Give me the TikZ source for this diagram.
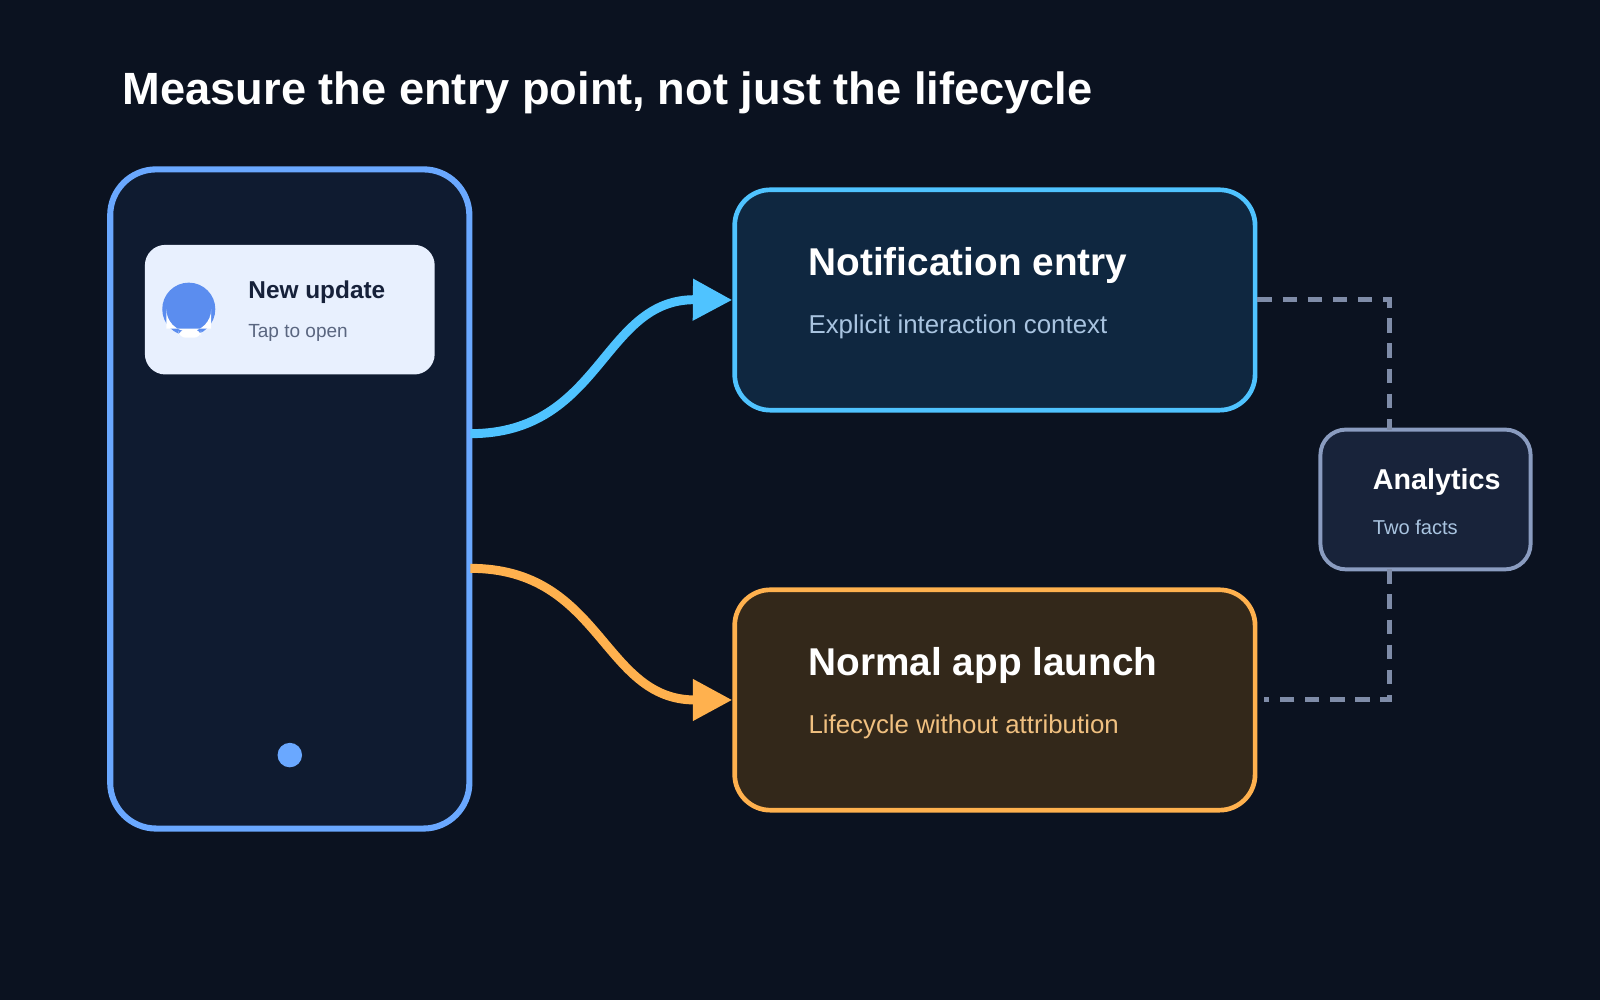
\documentclass[tikz,border=0pt]{standalone}
\usepackage{fontspec}
\setmainfont{Liberation Sans}
\usetikzlibrary{arrows.meta,positioning}
\definecolor{bgdark}{HTML}{0B1220}
\definecolor{phonefill}{HTML}{0F1B30}
\definecolor{phoneline}{HTML}{6AA8FF}
\definecolor{cardfill}{HTML}{E8F0FE}
\definecolor{belblue}{HTML}{5B8DEF}
\definecolor{notifline}{HTML}{4FC3FF}
\definecolor{notiffill}{HTML}{0F2740}
\definecolor{notiftext}{HTML}{A9C4E0}
\definecolor{launchline}{HTML}{FFB14E}
\definecolor{launchfill}{HTML}{33281A}
\definecolor{launchtext}{HTML}{F0C080}
\definecolor{anline}{HTML}{8A9CC0}
\definecolor{anfill}{HTML}{18233A}
\definecolor{dashcol}{HTML}{7F8CA8}
\definecolor{cardtitle}{HTML}{16213A}
\definecolor{cardsub}{HTML}{5A6680}

\tikzset{
    box/.style = {draw, rounded corners = 35*0.01cm, line width = 1.3pt, inner sep = 0},
    heading/.style = {anchor = base west, text = white, font = \bfseries\fontsize{10.8}{12}\selectfont},
    subline/.style = {anchor = base west, font = \fontsize{7.2}{9}\selectfont},
    flow/.style = {line width = 2.5pt, -{Triangle[length = 11pt, width = 11pt]}},
    dashlink/.style = {dashcol, line width = 1.4pt, dash pattern = on 4pt off 3pt},
}

\begin{document}
\begin{tikzpicture}[x = 0.01cm, y = -0.01cm]
    %% background
    \fill[bgdark] (0, 0) rectangle (1568, 980);
    \useasboundingbox (0, 0) rectangle (1568, 980);

    %% title
    \node[anchor = base west, text = white, font = \bfseries\fontsize{12.6}{14}\selectfont]
        (title) at (108, 102) {Measure the entry point, not just the lifecycle};

    %% phone
    \node[box, draw = phoneline, fill = phonefill, rounded corners = 45*0.01cm, line width = 1.7pt,
        minimum width = 352*0.01cm, minimum height = 646*0.01cm] (phone) at (284, 489) {};
    \node[fill = cardfill, rounded corners = 20*0.01cm, inner sep = 0,
        minimum width = 284*0.01cm, minimum height = 127*0.01cm] (card) at (284, 303.5) {};
    \fill[phoneline] (284, 740) circle (12);

    %% bell
    \fill[belblue] (185, 303) circle (26);
    \fill[white] (163, 322) -- (163, 303) arc[start angle = 180, end angle = 0, radius = 22] -- (207, 322) -- cycle;
    \fill[belblue] (169, 318) -- (169, 303) arc[start angle = 180, end angle = 0, radius = 16] -- (201, 318) -- cycle;
    \fill[white, rounded corners = 2] (175, 323) rectangle (197, 331);
    \node[anchor = base west, text = cardtitle, font = \bfseries\fontsize{6.8}{8}\selectfont]
        (cardhead) at (231, 293) {New update};
    \node[anchor = base west, text = cardsub, font = \fontsize{5.3}{6}\selectfont]
        (cardsubline) at (231, 331) {Tap to open};

    %% entry boxes
    \node[box, draw = notifline, fill = notiffill,
        minimum width = 510*0.01cm, minimum height = 216*0.01cm] (notif) at (975, 294) {};
    \node[heading] (notifhead) at (780, 270) {Notification entry};
    \node[subline, text = notiftext] (notifsub) at (780, 327) {Explicit interaction context};

    \node[box, draw = launchline, fill = launchfill,
        minimum width = 510*0.01cm, minimum height = 216*0.01cm] (launch) at (975, 686) {};
    \node[heading] (launchhead) at (780, 662) {Normal app launch};
    \node[subline, text = launchtext] (launchsub) at (780, 719) {Lifecycle without attribution};

    %% analytics
    \node[box, draw = anline, fill = anfill, rounded corners = 25*0.01cm, line width = 1.1pt,
        minimum width = 206*0.01cm, minimum height = 137*0.01cm] (analytics) at (1397, 489.5) {};
    \node[anchor = base west, text = white, font = \bfseries\fontsize{8}{9}\selectfont]
        (anhead) at (1333, 480) {Analytics};
    \node[anchor = base west, text = notiftext, font = \fontsize{5.6}{7}\selectfont]
        (ansub) at (1333, 524) {Two facts};

    %% flows
    \coordinate (blueout) at (461, 425);
    \coordinate (orangeout) at (461, 557);
    \draw[flow, notifline] (blueout) .. controls (590, 425) and (590, 293) .. (notif.west);
    \draw[flow, launchline] (orangeout) .. controls (590, 557) and (590, 686) .. (launch.west);

    %% dashed links
    \coordinate (antop) at (1362, 421);
    \coordinate (anbottom) at (1362, 558);
    \draw[dashlink] (notif.east) -| (antop);
    \draw[dashlink] (anbottom) |- ([xshift = 6*0.01cm]launch.east);
\end{tikzpicture}
\end{document}
